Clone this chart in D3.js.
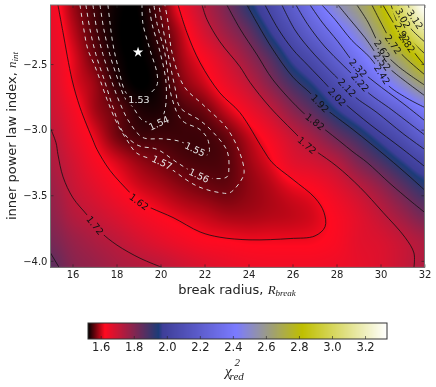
<!DOCTYPE html>
<html>
<head>
<meta charset="utf-8">
<script src="https://cdn.jsdelivr.net/npm/d3@7"></script>
<style>
  html, body { margin: 0; padding: 0; background: #fff; }
  #chart { position: relative; width: 436px; height: 387px; filter: blur(0.3px); }
  #chart canvas, #chart svg { position: absolute; left: 0; top: 0; }
  text { font-family: "DejaVu Sans", sans-serif; fill: #222; }
  .math { font-family: "Liberation Serif", serif; font-style: italic; }
</style>
</head>
<body>
<div id="chart"></div>
<script>
// axes
const radiusTicks = [16, 18, 20, 22, 24, 26, 28, 30, 32];
const indexTicks = [-2.5, -3.0, -3.5, -4.0];
const chiTicks = [1.6, 1.8, 2.0, 2.2, 2.4, 2.6, 2.8, 3.0, 3.2];

// chi2, columns are break radius, rows are inner index
const gridRadius = [15, 16, 17, 18, 19, 20, 21, 22, 23, 24, 25, 26, 27, 28, 29, 30, 31, 32];
const gridIndex = [-2.05, -2.25, -2.45, -2.65, -2.85, -3.05, -3.25, -3.45, -3.65, -3.85, -4.05];
const row205 = [1.65, 1.587, 1.548, 1.527, 1.525, 1.563, 1.64, 1.73, 1.82, 1.93, 2.05, 2.20, 2.35, 2.51, 2.63, 2.80, 3.06, 3.33];
const row225 = [1.66, 1.60, 1.553, 1.526, 1.522, 1.553, 1.605, 1.69, 1.77, 1.85, 1.97, 2.10, 2.24, 2.37, 2.51, 2.69, 2.92, 3.13];
const row245 = [1.67, 1.615, 1.565, 1.53, 1.522, 1.54, 1.59, 1.635, 1.70, 1.78, 1.87, 1.99, 2.09, 2.23, 2.37, 2.54, 2.70, 2.88];
const row265 = [1.685, 1.62, 1.585, 1.54, 1.522, 1.534, 1.575, 1.605, 1.655, 1.715, 1.80, 1.89, 1.97, 2.08, 2.21, 2.36, 2.51, 2.65];
const row285 = [1.70, 1.645, 1.59, 1.563, 1.537, 1.535, 1.553, 1.568, 1.605, 1.65, 1.71, 1.795, 1.87, 1.96, 2.05, 2.165, 2.27, 2.40];
const row305 = [1.725, 1.665, 1.615, 1.57, 1.55, 1.549, 1.547, 1.549, 1.565, 1.60, 1.645, 1.705, 1.765, 1.84, 1.91, 2.00, 2.10, 2.22];
const row325 = [1.745, 1.69, 1.64, 1.61, 1.585, 1.57, 1.557, 1.552, 1.557, 1.585, 1.615, 1.665, 1.69, 1.73, 1.81, 1.88, 1.96, 2.04];
const row345 = [1.77, 1.71, 1.67, 1.635, 1.61, 1.595, 1.58, 1.57, 1.565, 1.58, 1.595, 1.615, 1.63, 1.665, 1.715, 1.775, 1.85, 1.92];
const row365 = [1.79, 1.735, 1.705, 1.675, 1.645, 1.625, 1.61, 1.60, 1.59, 1.59, 1.595, 1.60, 1.61, 1.635, 1.67, 1.715, 1.77, 1.83];
const row385 = [1.82, 1.775, 1.745, 1.72, 1.69, 1.665, 1.645, 1.63, 1.625, 1.62, 1.62, 1.62, 1.622, 1.635, 1.665, 1.68, 1.71, 1.745];
const row405 = [1.86, 1.80, 1.775, 1.75, 1.735, 1.72, 1.695, 1.675, 1.66, 1.65, 1.645, 1.645, 1.645, 1.65, 1.66, 1.675, 1.705, 1.74];
const chiGrid = [row205, row225, row245, row265, row285, row305, row325, row345, row365, row385, row405];

// colour map stops
const cmapValues = [1.523, 1.625, 1.95, 1.975, 2.42, 2.82, 3.333];
const cmapColors = ['#000000', '#ff0a20', '#1c3c78', '#3e3e98', '#7b7bff', '#bfbf00', '#ffffff'];

// contour lines as [radius, index]
const c153 = [[17.61,-2.05],[17.70,-2.18],[17.84,-2.35],[18.07,-2.52],[18.48,-2.73],[19.02,-2.77],[19.48,-2.73],[19.84,-2.66],[19.84,-2.57],[19.52,-2.39],[19.20,-2.19],[19.16,-2.05]];
const c154 = [[17.25,-2.05],[17.43,-2.24],[17.70,-2.43],[18.07,-2.62],[18.39,-2.76],[18.75,-2.83],[19.20,-2.93],[19.93,-2.95],[20.20,-2.85],[20.25,-2.64],[19.98,-2.41],[19.61,-2.19],[19.48,-2.05]];
const c155 = [[16.93,-2.05],[17.11,-2.24],[17.39,-2.43],[17.80,-2.64],[18.16,-2.80],[18.61,-2.95],[19.20,-3.06],[20.11,-3.07],[20.89,-3.09],[21.57,-3.15],[22.16,-3.19],[22.16,-3.08],[21.80,-3.00],[20.98,-2.93],[20.52,-2.76],[20.20,-2.42],[19.84,-2.19],[19.70,-2.05]];
const c156 = [[16.61,-2.05],[16.80,-2.24],[17.07,-2.43],[17.48,-2.64],[17.84,-2.83],[18.30,-3.02],[18.98,-3.12],[19.84,-3.15],[20.75,-3.25],[21.75,-3.35],[22.25,-3.37],[23.02,-3.36],[23.11,-3.29],[23.02,-3.16],[22.39,-3.02],[21.80,-2.93],[20.89,-2.83],[20.66,-2.68],[20.34,-2.42],[20.07,-2.19],[19.93,-2.05]];
const c157 = [[16.34,-2.05],[16.48,-2.20],[16.70,-2.39],[16.98,-2.50],[17.25,-2.62],[17.57,-2.77],[18.02,-2.95],[18.48,-3.08],[18.93,-3.18],[20.07,-3.25],[20.57,-3.31],[21.66,-3.43],[22.70,-3.48],[23.16,-3.48],[23.75,-3.36],[23.80,-3.31],[23.61,-3.18],[23.02,-2.99],[21.93,-2.81],[21.07,-2.67],[20.52,-2.41],[20.34,-2.18],[20.20,-2.05]];
const c162 = [[15.34,-2.05],[15.57,-2.26],[15.98,-2.62],[16.34,-2.83],[16.93,-3.08],[17.11,-3.15],[17.70,-3.31],[18.61,-3.48],[19.02,-3.55],[19.61,-3.60],[20.57,-3.67],[21.80,-3.78],[22.70,-3.82],[24.07,-3.84],[25.89,-3.83],[27.02,-3.81],[27.48,-3.74],[27.43,-3.63],[27.02,-3.52],[26.02,-3.38],[25.07,-3.25],[24.66,-3.15],[23.61,-2.87],[22.70,-2.72],[21.80,-2.49],[21.20,-2.26],[20.80,-2.05]];
const c172a = [[15,-2.99],[15.25,-3.10],[15.34,-3.19],[15.57,-3.36],[16.02,-3.52],[16.66,-3.65],[17.02,-3.73],[17.34,-3.79],[18.02,-3.88],[19.07,-3.98],[20.07,-4.05]];
const c172b = [[21.89,-2.05],[22.11,-2.16],[22.70,-2.33],[23.61,-2.52],[24.07,-2.64],[24.98,-2.83],[26.20,-3.04],[26.66,-3.12],[27.11,-3.17],[28.02,-3.28],[29.07,-3.44],[30.11,-3.63],[31.11,-3.82],[31.52,-3.94],[31.52,-4.05]];
const c182a = [[15,-3.94],[15.39,-4.05]];
const c182b = [[23.02,-2.05],[23.61,-2.23],[24.39,-2.43],[25.11,-2.62],[26.48,-2.87],[27.02,-2.94],[27.48,-3.00],[28.16,-3.09],[28.75,-3.17],[29.39,-3.25],[30.43,-3.41],[31.34,-3.54],[32,-3.63]];
const c192 = [[23.93,-2.05],[24.43,-2.20],[25.11,-2.39],[26.02,-2.60],[26.80,-2.72],[27.25,-2.80],[27.57,-2.85],[28.75,-3.00],[30.30,-3.21],[31.34,-3.36],[32,-3.46]];
const c202 = [[24.75,-2.05],[25.34,-2.23],[26.02,-2.39],[26.70,-2.51],[27.61,-2.67],[28.02,-2.75],[28.43,-2.81],[29.52,-2.96],[31.02,-3.15],[32,-3.28]];
const c212 = [[25.52,-2.05],[26.11,-2.24],[26.80,-2.39],[27.70,-2.55],[28.48,-2.68],[28.84,-2.75],[29.84,-2.87],[31.02,-3.03],[32,-3.15]];
const c222 = [[26.16,-2.05],[26.70,-2.20],[27.48,-2.37],[28.30,-2.51],[29.07,-2.64],[29.39,-2.71],[30.52,-2.85],[32,-3.04]];
const c232 = [[26.80,-2.05],[27.34,-2.18],[28.07,-2.33],[28.98,-2.53],[29.75,-2.64],[31.02,-2.80],[32,-2.93]];
const c242 = [[27.34,-2.05],[27.93,-2.16],[28.70,-2.32],[29.52,-2.45],[30.07,-2.58],[30.34,-2.66],[31.20,-2.76],[32,-2.83]];
const c252 = [[28.07,-2.05],[28.61,-2.16],[29.30,-2.30],[30.07,-2.48],[30.66,-2.57],[32,-2.74]];
const c262 = [[28.93,-2.05],[29.43,-2.18],[30.07,-2.39],[30.75,-2.51],[32,-2.66]];
const c272 = [[29.61,-2.05],[30.07,-2.20],[30.57,-2.35],[31.11,-2.45],[32,-2.58]];
const c282 = [[30.11,-2.05],[30.57,-2.18],[31.20,-2.34],[32,-2.51]];
const c292 = [[30.48,-2.05],[30.98,-2.26],[31.43,-2.33],[32,-2.42]];
const c302 = [[30.80,-2.05],[31.02,-2.15],[31.43,-2.24],[32,-2.33]];
const c312 = [[31.25,-2.05],[31.57,-2.16],[32,-2.24]];
const lowContours = [c153, c154, c155, c156, c157];
const highContours = [c162, c172a, c172b, c182a, c182b, c192, c202, c212, c222, c232, c242, c252, c262, c272, c282, c292, c302, c312];

// contour labels, each sits on a vertex of its line
const labelText = ['1.53', '1.54', '1.55', '1.56', '1.57', '1.62', '1.72', '1.72', '1.82', '1.92', '2.02', '2.12', '2.22', '2.32', '2.42', '2.52', '2.62', '2.72', '2.82', '2.92', '3.02', '3.12'];
const labelLine = [c153, c154, c155, c156, c157, c162, c172a, c172b, c182b, c192, c202, c212, c222, c232, c242, c252, c262, c272, c282, c292, c302, c312];
const labelVertex = [5, 7, 9, 9, 9, 8, 6, 7, 5, 5, 5, 4, 4, 3, 4, 3, 2, 2, 2, 1, 1, 1];

// best fit
const bestRadius = 18.98;
const bestIndex = -2.41;

const width = 436, height = 387;
const x = d3.scaleLinear().domain([15, 32]).range([50.5, 424.5]);
const y = d3.scaleLinear().domain([-4.05, -2.05]).range([267.4, 5]);
const cbarX = d3.scaleLinear().domain([1.523, 3.333]).range([88, 387]);
const color = d3.scaleLinear().domain(cmapValues).range(cmapColors).clamp(true);

// Catmull-Rom on the value grid, same look as bicubic imshow
function cubic(p0, p1, p2, p3, t) {
  return p1 + 0.5 * t * (p2 - p0 + t * (2 * p0 - 5 * p1 + 4 * p2 - p3 + t * (3 * (p1 - p2) + p3 - p0)));
}
function chiAt(r, n) {
  const u = Math.max(0, Math.min(gridRadius.length - 1.001, r - gridRadius[0]));
  const v = Math.max(0, Math.min(gridIndex.length - 1.001, (gridIndex[0] - n) / 0.2));
  const i = Math.floor(u), j = Math.floor(v);
  const col = k => Math.max(0, Math.min(gridRadius.length - 1, k));
  const row = k => Math.max(0, Math.min(gridIndex.length - 1, k));
  const rowVal = jj => cubic(chiGrid[row(jj)][col(i - 1)], chiGrid[row(jj)][col(i)], chiGrid[row(jj)][col(i + 1)], chiGrid[row(jj)][col(i + 2)], u - i);
  return cubic(rowVal(j - 1), rowVal(j), rowVal(j + 1), rowVal(j + 2), v - j);
}

const chart = d3.select('#chart');

// heat map
const canvas = chart.append('canvas').attr('width', width).attr('height', height);
const ctx = canvas.node().getContext('2d');
const [px0, px1] = x.range();
const [py1, py0] = y.range();
for (let py = Math.floor(py0); py < py1; py++) {
  for (let px = Math.floor(px0); px < px1; px++) {
    ctx.fillStyle = color(chiAt(x.invert(px + 0.5), y.invert(py + 0.5)));
    ctx.fillRect(px, py, 1, 1);
  }
}

const svg = chart.append('svg').attr('width', width).attr('height', height);
const defs = svg.append('defs');
defs.append('clipPath').attr('id', 'plot').append('rect')
  .attr('x', px0).attr('y', py0).attr('width', px1 - px0).attr('height', py1 - py0);

// label positions and angles
const labels = labelText.map((t, i) => {
  const line = labelLine[i], k = labelVertex[i];
  const a = line[k - 1], b = line[k + 1];
  let ang = Math.atan2(y(b[1]) - y(a[1]), x(b[0]) - x(a[0])) * 180 / Math.PI;
  if (ang > 90) ang -= 180;
  if (ang < -90) ang += 180;
  return { text: t, low: +t < 1.6, px: x(line[k][0]), py: y(line[k][1]), ang };
});

// cut the lines under the labels
const mask = defs.append('mask').attr('id', 'gaps').attr('maskUnits', 'userSpaceOnUse')
  .attr('x', 0).attr('y', 0).attr('width', width).attr('height', height);
mask.append('rect').attr('width', width).attr('height', height).attr('fill', '#fff');
mask.selectAll('rect.gap').data(labels).enter().append('rect')
  .attr('class', 'gap').attr('x', -13).attr('y', -6).attr('width', 26).attr('height', 12).attr('fill', '#000')
  .attr('transform', d => `translate(${d.px},${d.py}) rotate(${d.ang})`);

const lineGen = d3.line().x(d => x(d[0])).y(d => y(d[1])).curve(d3.curveCatmullRom.alpha(0.5));
const lines = svg.append('g').attr('clip-path', 'url(#plot)').append('g').attr('mask', 'url(#gaps)');
lines.selectAll('path.high').data(highContours).enter().append('path')
  .attr('class', 'high').attr('d', lineGen).attr('fill', 'none')
  .attr('stroke', '#111').attr('stroke-width', 0.8);
lines.selectAll('path.low').data(lowContours).enter().append('path')
  .attr('class', 'low').attr('d', lineGen).attr('fill', 'none')
  .attr('stroke', '#dcdcdc').attr('stroke-width', 1).attr('stroke-dasharray', '4,4');

svg.selectAll('text.clabel').data(labels).enter().append('text')
  .attr('class', 'clabel')
  .attr('transform', d => `translate(${d.px},${d.py}) rotate(${d.ang})`)
  .attr('text-anchor', 'middle').attr('dy', '0.35em')
  .style('font-size', '9.5px')
  .style('fill', d => d.low ? '#e8e8e8' : '#111')
  .text(d => d.text);

// best fit star
svg.append('path')
  .attr('d', d3.symbol().type(d3.symbolStar).size(34))
  .attr('transform', `translate(${x(bestRadius)},${y(bestIndex)})`)
  .attr('fill', '#fff');

// axes, ticks point inwards
const minus = d => d3.format('.1f')(d).replace('-', '\u2212');
function styleAxis(g) {
  g.select('.domain').remove();
  g.selectAll('line').attr('stroke', '#222').attr('stroke-width', 0.6);
  g.selectAll('text').style('font-size', '10px');
}
svg.append('g').attr('transform', `translate(0,${py1})`)
  .call(d3.axisBottom(x).tickValues(radiusTicks).tickFormat(d3.format('d')).tickSize(-3).tickPadding(4))
  .call(styleAxis);
svg.append('g').attr('transform', `translate(${px0},0)`)
  .call(d3.axisLeft(y).tickValues(indexTicks).tickFormat(minus).tickSize(-3).tickPadding(3))
  .call(styleAxis);
svg.append('g').attr('transform', `translate(0,${py0})`)
  .call(d3.axisTop(x).tickValues(radiusTicks).tickFormat('').tickSize(-3))
  .call(styleAxis);
svg.append('g').attr('transform', `translate(${px1},0)`)
  .call(d3.axisRight(y).tickValues(indexTicks).tickFormat('').tickSize(-3))
  .call(styleAxis);
svg.append('rect').attr('x', px0).attr('y', py0).attr('width', px1 - px0).attr('height', py1 - py0)
  .attr('fill', 'none').attr('stroke', '#777').attr('stroke-width', 1);

// axis titles
const xTitle = svg.append('text').attr('x', 237).attr('y', 294).attr('text-anchor', 'middle').style('font-size', '13px');
xTitle.append('tspan').text('break radius, ');
xTitle.append('tspan').attr('class', 'math').text('R');
xTitle.append('tspan').attr('class', 'math').attr('dy', 2).style('font-size', '9px').text('break');

const yTitle = svg.append('text').attr('transform', 'translate(16,136) rotate(-90)').attr('text-anchor', 'middle').style('font-size', '13px');
yTitle.append('tspan').text('inner power law index, ');
yTitle.append('tspan').attr('class', 'math').text('n');
yTitle.append('tspan').attr('class', 'math').attr('dy', 2).style('font-size', '9px').text('int');

// colour bar
const cbarY = 323, cbarH = 16;
svg.append('g').selectAll('rect').data(d3.range(88, 387)).enter().append('rect')
  .attr('x', d => d).attr('y', cbarY).attr('width', 1.2).attr('height', cbarH)
  .attr('fill', d => color(cbarX.invert(d + 0.5)));
svg.append('g').attr('transform', `translate(0,${cbarY + cbarH})`)
  .call(d3.axisBottom(cbarX).tickValues(chiTicks).tickFormat(d3.format('.1f')).tickSize(-3).tickPadding(4))
  .call(g => {
    styleAxis(g);
    g.selectAll('text').style('font-size', '11.5px');
  });
svg.append('rect').attr('x', 88).attr('y', cbarY).attr('width', 299).attr('height', cbarH)
  .attr('fill', 'none').attr('stroke', '#333').attr('stroke-width', 1);

const cbarTitle = svg.append('text').attr('x', 225).attr('y', 376).style('font-size', '15px');
cbarTitle.append('tspan').attr('class', 'math').text('\u03c7');
cbarTitle.append('tspan').attr('class', 'math').attr('dx', 3).attr('dy', -10).style('font-size', '11px').text('2');
cbarTitle.append('tspan').attr('class', 'math').attr('dx', -10.5).attr('dy', 14).style('font-size', '11px').text('red');
</script>
</body>
</html>
